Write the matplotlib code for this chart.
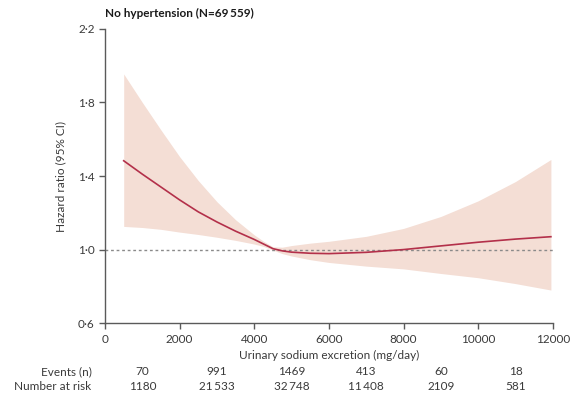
#! /usr/bin/env python3
# Hazard ratio vs urinary sodium excretion, no hypertension group

import matplotlib
matplotlib.use('Agg')
import matplotlib.pyplot as plt
import matplotlib.transforms as mtransforms

plt.rcParams['font.family'] = ['Lato', 'DejaVu Sans']

# spline estimate
sodium = [500, 1000, 1500, 2000, 2500, 3000, 3500, 4000, 4250, 4500,
          4750, 5000, 5500, 6000, 7000, 8000, 9000, 10000, 11000, 11950]
hr = [1.483, 1.41, 1.34, 1.27, 1.205, 1.15, 1.10, 1.055, 1.03, 1.005,
      0.993, 0.986, 0.98, 0.978, 0.985, 1.0, 1.02, 1.04, 1.057, 1.07]
ci_upper = [1.955, 1.80, 1.65, 1.505, 1.375, 1.26, 1.162, 1.08, 1.045, 1.015,
            1.013, 1.022, 1.035, 1.045, 1.072, 1.115, 1.18, 1.265, 1.37, 1.49]
ci_lower = [1.126, 1.12, 1.11, 1.095, 1.082, 1.067, 1.05, 1.03, 1.017, 0.997,
            0.978, 0.965, 0.945, 0.93, 0.91, 0.895, 0.87, 0.847, 0.815, 0.78]

xticks = [0, 2000, 4000, 6000, 8000, 10000, 12000]
yticks = [0.6, 1.0, 1.4, 1.8, 2.2]
ytick_labels = ['0·6', '1·0', '1·4', '1·8', '2·2']

# risk table
bin_centres = [1000, 3000, 5000, 7000, 9000, 11000]
events = ['70', '991', '1469', '413', '60', '18']
at_risk = ['1180', '21\u2009533', '32\u2009748', '11\u2009408', '2109', '581']

txt = '#3a3a3a'
axis_col = '#5a5a5a'

fig = plt.figure(figsize=(5.74, 3.96), dpi=100)
ax = fig.add_axes([0.183, 0.184, 0.780, 0.743])

ax.fill_between(sodium, ci_lower, ci_upper, color='#f4ded5', lw=0)
ax.axhline(1.0, color='#8a8a8a', lw=1, ls=(0, (2, 2)))
ax.plot(sodium, hr, color='#b3304a', lw=1.2)

ax.set_xlim(0, 12000)
ax.set_ylim(0.6, 2.2)
ax.set_xticks(xticks)
ax.set_xticklabels([str(t) for t in xticks])
ax.set_yticks(yticks)
ax.set_yticklabels(ytick_labels)

for s in ['top', 'right']:
    ax.spines[s].set_visible(False)
for s in ['left', 'bottom']:
    ax.spines[s].set_color(axis_col)
    ax.spines[s].set_linewidth(1)
ax.tick_params(colors=axis_col, labelcolor=txt, labelsize=8.5, length=4, width=1)

ax.set_xlabel('Urinary sodium excretion (mg/day)', fontsize=8.5, color=txt, labelpad=4)
ax.set_ylabel('Hazard ratio (95% CI)', fontsize=8.5, color=txt, labelpad=8)
ax.text(0, 1.035, 'No hypertension (N=69\u2009559)', transform=ax.transAxes,
        fontsize=8.5, fontweight='bold', color='#1a1a1a', ha='left', va='bottom')

trans = mtransforms.blended_transform_factory(ax.transData, ax.transAxes)
row_y = [-0.165, -0.215]
ax.text(-0.03, row_y[0], 'Events (n)', transform=ax.transAxes, ha='right',
        va='center', fontsize=8.5, color=txt)
ax.text(-0.03, row_y[1], 'Number at risk', transform=ax.transAxes, ha='right',
        va='center', fontsize=8.5, color=txt)
for xc, e, n in zip(bin_centres, events, at_risk):
    ax.text(xc, row_y[0], e, transform=trans, ha='center', va='center',
            fontsize=8.5, color=txt, clip_on=False)
    ax.text(xc, row_y[1], n, transform=trans, ha='center', va='center',
            fontsize=8.5, color=txt, clip_on=False)

fig.savefig('out.png', dpi=100)
